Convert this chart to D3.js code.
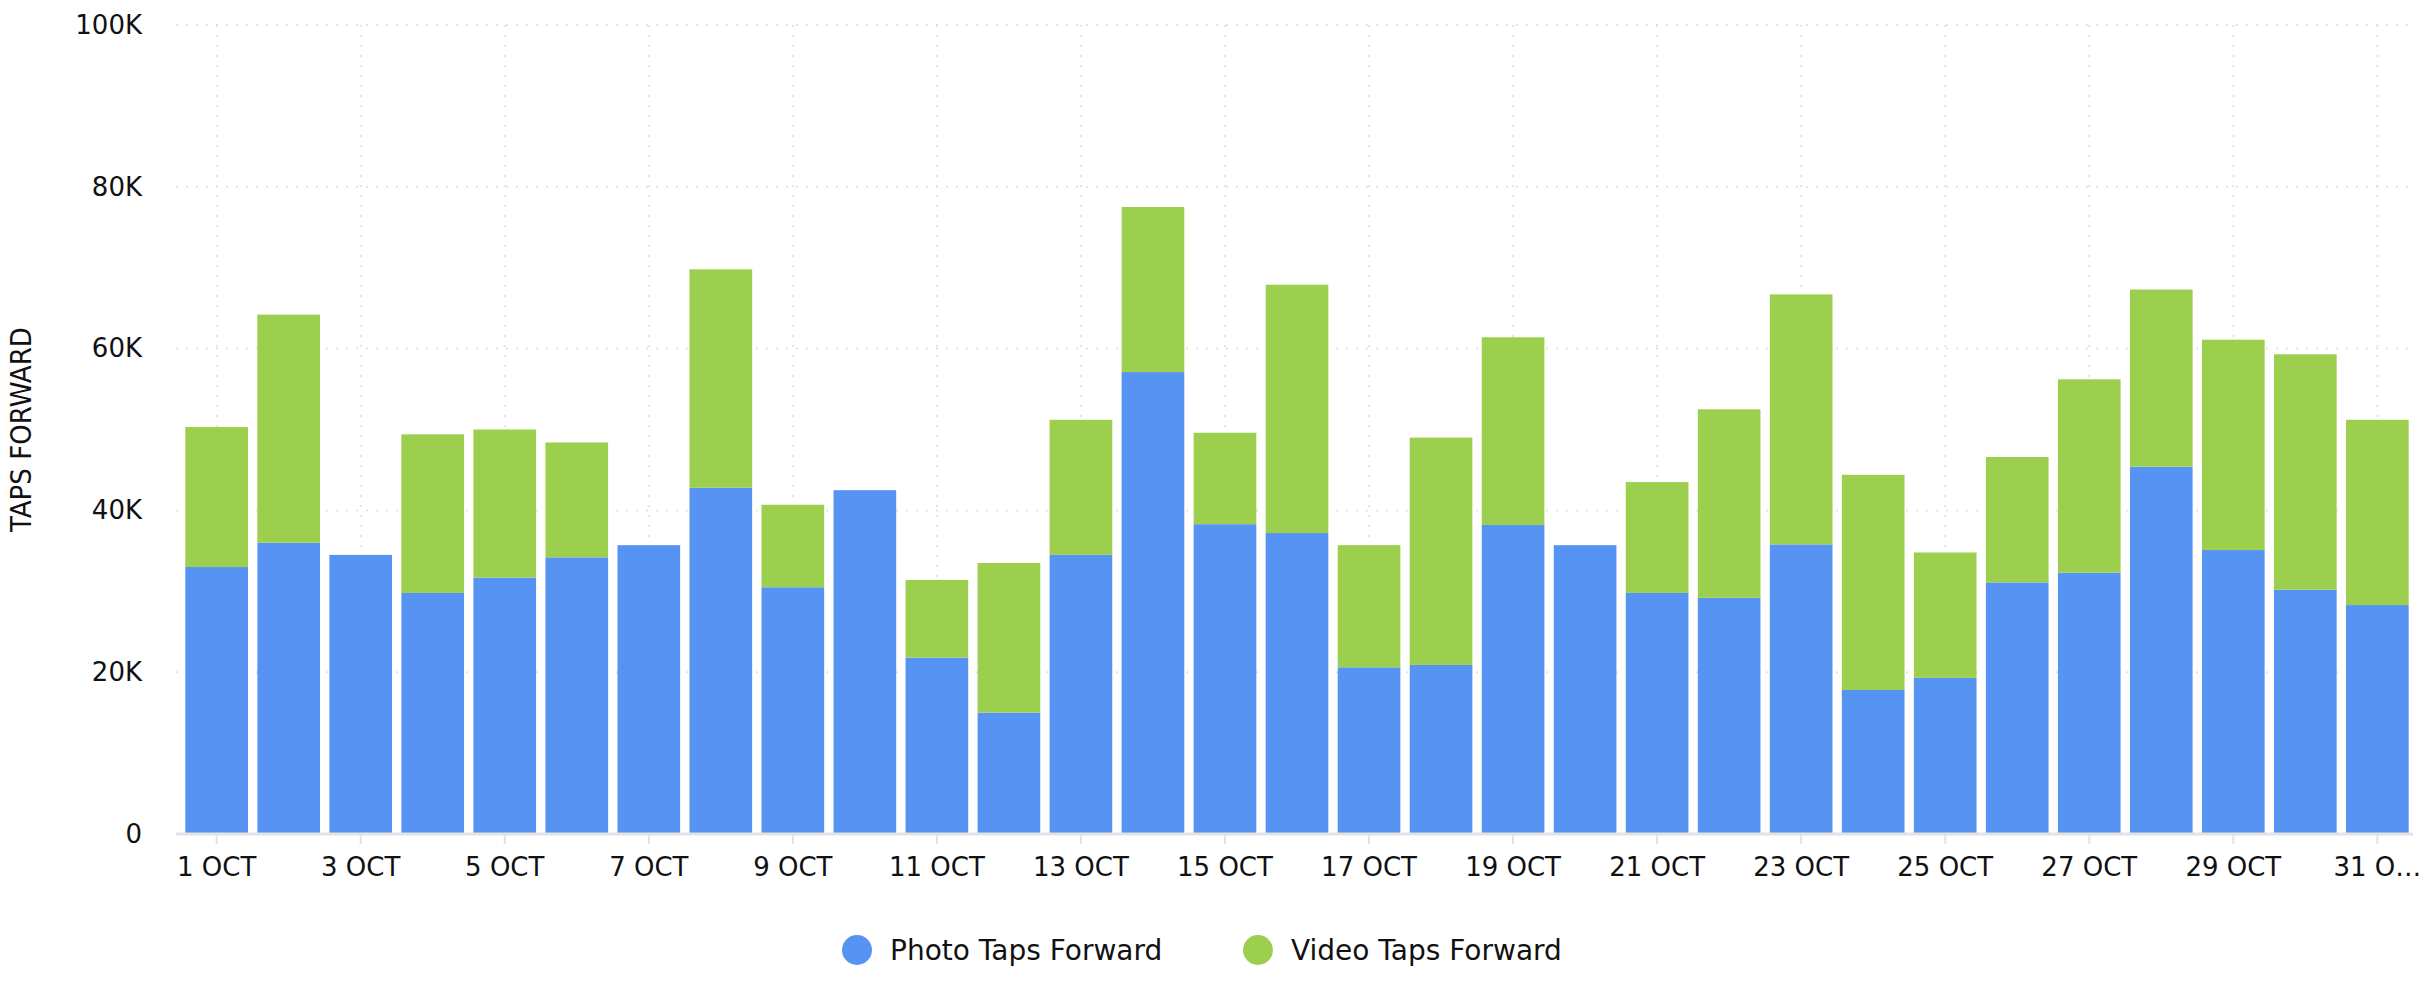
<!DOCTYPE html>
<html>
<head>
<meta charset="utf-8">
<script src="https://cdn.jsdelivr.net/npm/d3@7"></script>
<style>
  body { margin: 0; background: #fff; }
  text { font-family: "DejaVu Sans", sans-serif; fill: #111; }
</style>
</head>
<body>
<div id="chart"></div>
<script>
// data (thousands)
const days = d3.range(1, 32).map(function (d) { return d + " OCT"; });
const photoTaps = [33, 36, 34.5, 29.8, 31.7, 34.2, 35.7, 42.8, 30.5, 42.5, 21.8, 15, 34.5, 57.1, 38.3, 37.2,
                   20.6, 20.9, 38.2, 35.7, 29.8, 29.2, 35.8, 17.8, 19.3, 31.1, 32.3, 45.4, 35.1, 30.2, 28.3];
const videoTaps = [17.3, 28.2, 0, 19.6, 18.3, 14.2, 0, 27, 10.2, 0, 9.6, 18.5, 16.7, 20.4, 11.3, 30.7,
                   15.1, 28.1, 23.2, 0, 13.7, 23.3, 30.9, 26.6, 15.5, 15.5, 23.9, 21.9, 26, 29.1, 22.9];
const seriesNames = ["Photo Taps Forward", "Video Taps Forward"];
const seriesColors = ["#5793f3", "#9ccf4d"];
const yTicks = [0, 20, 40, 60, 80, 100];

const width = 2425, height = 1000,
      margin = {top: 25, right: 12, bottom: 166, left: 181};

const svg = d3.select("#chart").append("svg")
    .attr("width", width).attr("height", height);

const x = d3.scaleBand().domain(days)
    .range([margin.left, width - margin.right])
    .paddingInner(0.13).paddingOuter(0.06);
const y = d3.scaleLinear().domain([0, 100]).range([height - margin.bottom, margin.top]);

const tickDays = days.filter(function (d, i) { return i % 2 === 0; });

// grid
svg.append("g").selectAll("line.h").data(yTicks.slice(1)).enter().append("line")
    .attr("x1", margin.left - 5).attr("x2", width - margin.right)
    .attr("y1", function (d) { return y(d); }).attr("y2", function (d) { return y(d); })
    .attr("stroke", "#e3e3e3").attr("stroke-width", 2).attr("stroke-dasharray", "2,8");
svg.append("g").selectAll("line.v").data(tickDays).enter().append("line")
    .attr("x1", function (d) { return x(d) + x.bandwidth() / 2; })
    .attr("x2", function (d) { return x(d) + x.bandwidth() / 2; })
    .attr("y1", margin.top).attr("y2", y(0))
    .attr("stroke", "#e3e3e3").attr("stroke-width", 2).attr("stroke-dasharray", "2,8");

// stacked bars
const rows = days.map(function (d, i) { return {day: d, photo: photoTaps[i], video: videoTaps[i]}; });
const stack = d3.stack().keys(["photo", "video"])(rows);
svg.append("g").selectAll("g").data(stack).enter().append("g")
    .attr("fill", function (d, i) { return seriesColors[i]; })
    .selectAll("rect").data(function (d) { return d; }).enter().append("rect")
    .attr("x", function (d) { return x(d.data.day); })
    .attr("width", x.bandwidth())
    .attr("y", function (d) { return y(d[1]); })
    .attr("height", function (d) { return y(d[0]) - y(d[1]); });

// axes
const yAxis = svg.append("g")
    .attr("transform", "translate(" + (margin.left - 36) + ",0)")
    .call(d3.axisLeft(y).tickValues(yTicks).tickSize(0)
        .tickFormat(function (d) { return d === 0 ? "0" : d + "K"; }));
yAxis.select(".domain").remove();
yAxis.selectAll("text").attr("font-size", 26).attr("fill", "#111");

const xAxis = svg.append("g")
    .attr("transform", "translate(0," + y(0) + ")")
    .call(d3.axisBottom(x).tickValues(tickDays).tickSize(10).tickPadding(14)
        .tickFormat(function (d) { return d === "31 OCT" ? "31 O…" : d; }));
xAxis.select(".domain").attr("stroke", "#e3e3e3").attr("stroke-width", 3)
    .attr("d", "M" + (margin.left - 5) + ",0H" + (width - margin.right));
xAxis.selectAll(".tick line").attr("stroke", "#e3e3e3").attr("stroke-width", 2);
xAxis.selectAll("text").attr("font-size", 26).attr("fill", "#111");

svg.append("text")
    .attr("transform", "translate(31," + ((margin.top + y(0)) / 2) + ") rotate(-90)")
    .attr("text-anchor", "middle")
    .style("font-family", "'Liberation Sans Narrow', 'DejaVu Sans Condensed', sans-serif")
    .attr("font-size", 29)
    .text("TAPS FORWARD");

// legend
const legend = svg.append("g").attr("transform", "translate(0,950)");
const legendX = [857, 1258];
seriesNames.forEach(function (name, i) {
    legend.append("circle").attr("cx", legendX[i]).attr("cy", 0).attr("r", 15)
        .attr("fill", seriesColors[i]);
    legend.append("text").attr("x", legendX[i] + 33).attr("y", 0).attr("dy", "0.35em")
        .attr("font-size", 28).text(name);
});
</script>
</body>
</html>
